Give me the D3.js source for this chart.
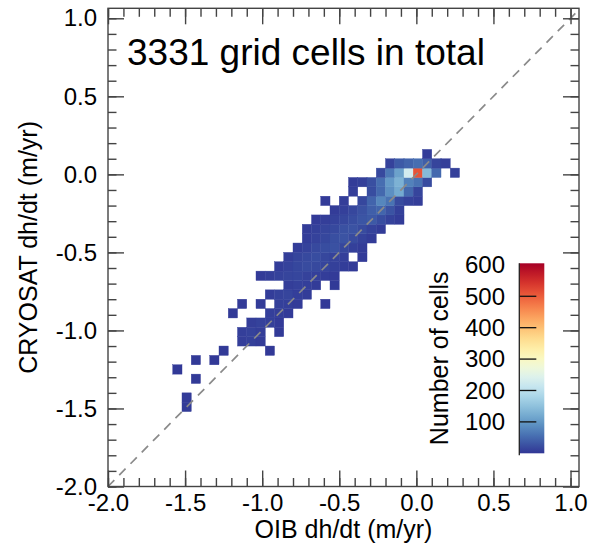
<!DOCTYPE html>
<html lang="en">
<head>
<meta charset="utf-8">
<script src="https://cdn.jsdelivr.net/npm/d3@7"></script>
<style>
    body { margin: 0; background: #fff; }
    text { font-family: "Liberation Sans", Arial, sans-serif; fill: #000; }
    .frame { fill: none; stroke: #444; stroke-width: 1.4; }
    .axis path { display: none; }
    .axis line { stroke: #444; stroke-width: 1.4; }
    .axis text { font-size: 24px; fill: #000; }
    .one2one { stroke: #8a8a8a; stroke-width: 1.7; stroke-dasharray: 9,7; fill: none; }
</style>
</head>
<body>
<div id="chart"></div>
<script>
    // every cell is binWidth x binWidth (m/yr)
    var binWidth = 0.06;
    // lower CRYOSAT edge of each row of cells
    var rowY = [-1.52, -1.46, -1.34, -1.28, -1.22, -1.16, -1.10, -1.04, -0.98, -0.92,
                -0.86, -0.80, -0.74, -0.68, -0.62, -0.56, -0.50, -0.44, -0.38, -0.32,
                -0.26, -0.20, -0.14, -0.08, -0.02, 0.04, 0.10];
    // lower OIB edge of the first cell of each row
    var rowX0 = [-1.52, -1.52, -1.46, -1.58, -1.46, -1.28, -1.16, -1.16, -1.10, -1.22,
                 -1.16, -0.98, -0.86, -1.04, -0.92, -0.86, -0.80, -0.74, -0.74, -0.68,
                 -0.56, -0.62, -0.44, -0.44, -0.26, -0.20, 0.04];
    // number of grid cells in each bin, left to right (0 = empty)
    var rowCounts = [
        [6],
        [5],
        [4],
        [3],
        [4, 0, 3],
        [4, 0, 0, 0, 0, 3],
        [8, 10, 6],
        [9, 12, 8, 0, 4],
        [8, 12, 10, 5],
        [4, 0, 0, 0, 9, 8, 5],
        [5, 0, 6, 0, 10, 9, 6, 0, 0, 3],
        [7, 12, 14, 9, 6],
        [8, 11, 9, 6, 0, 4],
        [5, 8, 12, 14, 15, 12, 9, 7, 5],
        [7, 12, 16, 20, 18, 14, 10, 7, 5],
        [8, 14, 18, 22, 16, 12, 9, 0, 5],
        [7, 12, 18, 22, 26, 16, 10, 6],
        [7, 12, 16, 24, 28, 20, 12, 6],
        [6, 10, 14, 18, 26, 28, 20, 12, 6],
        [5, 8, 12, 16, 22, 30, 34, 22, 12, 6],
        [6, 10, 16, 26, 40, 46, 28, 10],
        [5, 0, 8, 0, 16, 45, 80, 60, 20, 12, 8],
        [8, 0, 22, 50, 90, 120, 50, 14],
        [6, 10, 24, 55, 100, 130, 75, 60, 20],
        [18, 65, 110, 228, 510, 140, 50, 0, 10],
        [12, 35, 45, 55, 40, 14, 8],
        [6]
    ];
    var majorTicks = [-2.0, -1.5, -1.0, -0.5, 0.0, 0.5, 1.0];
    var cbarTicks = [100, 200, 300, 400, 500, 600];
    var cbarMax = 605;

    var margin = {top: 8.3, right: 10, bottom: 58.5, left: 108};
    var width = 589 - margin.left - margin.right;
    var height = 545 - margin.top - margin.bottom;

    var svg = d3.select("#chart").append("svg")
        .attr("width", 589)
        .attr("height", 545);

    var g = svg.append("g")
        .attr("transform", "translate(" + margin.left + "," + margin.top + ")");

    var x = d3.scaleLinear().domain([-2, 1.055]).range([0, width]);
    var y = d3.scaleLinear().domain([-2, 1.064]).range([height, 0]);
    var color = d3.scaleSequential(d3.interpolateRdYlBu).domain([cbarMax, 0]);

    // flatten rows into cells
    var cells = [];
    rowCounts.forEach(function (counts, r) {
        counts.forEach(function (n, k) {
            if (n > 0) cells.push({x0: rowX0[r] + k * binWidth, y0: rowY[r], n: n});
        });
    });

    g.selectAll(".cell")
        .data(cells)
        .enter().append("rect")
        .attr("class", "cell")
        .attr("x", function (d) { return x(d.x0); })
        .attr("y", function (d) { return y(d.y0 + binWidth); })
        .attr("width", function (d) { return x(d.x0 + binWidth) - x(d.x0); })
        .attr("height", function (d) { return y(d.y0) - y(d.y0 + binWidth); })
        .attr("fill", function (d) { return color(d.n); })
        .attr("stroke", function (d) { return color(d.n); })
        .attr("stroke-width", 0.4);

    // 1:1 line
    g.append("line")
        .attr("class", "one2one")
        .attr("x1", x(-2)).attr("y1", y(-2))
        .attr("x2", x(1.055)).attr("y2", y(1.055));

    var minorTicks = x.ticks(30);
    var fmt = function (d) { return d.toFixed(1); };

    // bottom
    g.append("g").attr("class", "axis")
        .attr("transform", "translate(0," + height + ")")
        .call(d3.axisBottom(x).tickValues(minorTicks).tickSize(-8.5).tickFormat(""));
    g.append("g").attr("class", "axis")
        .attr("transform", "translate(0," + height + ")")
        .call(d3.axisBottom(x).tickValues(majorTicks).tickSize(-16).tickPadding(7).tickFormat(fmt));
    // left
    g.append("g").attr("class", "axis")
        .call(d3.axisLeft(y).tickValues(minorTicks).tickSize(-8.5).tickFormat(""));
    g.append("g").attr("class", "axis")
        .call(d3.axisLeft(y).tickValues(majorTicks).tickSize(-16).tickPadding(11).tickFormat(fmt));
    // top
    g.append("g").attr("class", "axis")
        .call(d3.axisTop(x).tickValues(minorTicks).tickSize(-8.5).tickFormat(""));
    g.append("g").attr("class", "axis")
        .call(d3.axisTop(x).tickValues(majorTicks).tickSize(-16).tickFormat(""));
    // right
    g.append("g").attr("class", "axis")
        .attr("transform", "translate(" + width + ",0)")
        .call(d3.axisRight(y).tickValues(minorTicks).tickSize(-8.5).tickFormat(""));
    g.append("g").attr("class", "axis")
        .attr("transform", "translate(" + width + ",0)")
        .call(d3.axisRight(y).tickValues(majorTicks).tickSize(-16).tickFormat(""));

    g.append("rect")
        .attr("class", "frame")
        .attr("width", width)
        .attr("height", height);

    // titles
    svg.append("text")
        .attr("x", margin.left + width / 2)
        .attr("y", 538)
        .attr("text-anchor", "middle")
        .style("font-size", "25px")
        .text("OIB dh/dt (m/yr)");

    svg.append("text")
        .attr("transform", "translate(37," + (margin.top + height / 2) + ") rotate(-90)")
        .attr("text-anchor", "middle")
        .style("font-size", "25px")
        .text("CRYOSAT dh/dt (m/yr)");

    svg.append("text")
        .attr("x", 127)
        .attr("y", 65)
        .style("font-size", "37px")
        .text("3331 grid cells in total");

    // colour bar
    var cb = {x: 519.3, w: 25, top: 263.3, bottom: 453.3};
    var cy = d3.scaleLinear().domain([0, cbarMax]).range([cb.bottom, cb.top]);

    var grad = svg.append("defs").append("linearGradient")
        .attr("id", "cbar")
        .attr("x1", "0").attr("y1", "1").attr("x2", "0").attr("y2", "0");
    grad.selectAll("stop")
        .data(d3.range(0, 1.0001, 0.05))
        .enter().append("stop")
        .attr("offset", function (d) { return d; })
        .attr("stop-color", function (d) { return color(d * cbarMax); });

    svg.append("rect")
        .attr("x", cb.x)
        .attr("y", cb.top)
        .attr("width", cb.w)
        .attr("height", cb.bottom - cb.top)
        .attr("fill", "url(#cbar)");

    svg.selectAll(".cb-tick")
        .data(cbarTicks.slice(0, 5))
        .enter().append("line")
        .attr("class", "cb-tick")
        .attr("x1", cb.x).attr("x2", cb.x + 17)
        .attr("y1", function (d) { return cy(d); })
        .attr("y2", function (d) { return cy(d); })
        .attr("stroke", "#111")
        .attr("stroke-width", 1.3);

    svg.append("line")
        .attr("x1", cb.x).attr("x2", cb.x)
        .attr("y1", cb.top).attr("y2", cb.bottom + 2)
        .attr("stroke", "#222")
        .attr("stroke-width", 1.3);

    svg.selectAll(".cb-label")
        .data(cbarTicks)
        .enter().append("text")
        .attr("class", "cb-label")
        .attr("x", 505)
        .attr("y", function (d) { return cy(d); })
        .attr("dy", "0.35em")
        .attr("text-anchor", "end")
        .style("font-size", "24px")
        .text(function (d) { return d; });

    svg.append("text")
        .attr("transform", "translate(448," + ((cb.top + cb.bottom) / 2) + ") rotate(-90)")
        .attr("text-anchor", "middle")
        .style("font-size", "25px")
        .text("Number of cells");
</script>
</body>
</html>
